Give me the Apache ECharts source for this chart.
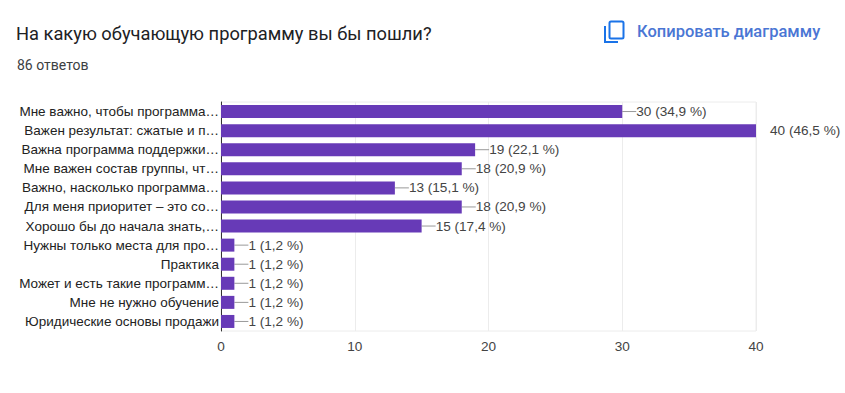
<!DOCTYPE html>
<html>
<head>
<meta charset="utf-8">
<style>
  html, body { margin: 0; padding: 0; background: #fff; }
  #chart { width: 845px; height: 393px; }
</style>
<script src="https://cdn.jsdelivr.net/npm/echarts@6/dist/echarts.min.js"></script>
</head>
<body>
<div id="chart"></div>
<script>
const categories = [
  'Мне важно, чтобы программа…',
  'Важен результат: сжатые и п…',
  'Важна программа поддержки…',
  'Мне важен состав группы, чт…',
  'Важно, насколько программа…',
  'Для меня приоритет – это со…',
  'Хорошо бы до начала знать,…',
  'Нужны только места для про…',
  'Практика',
  'Может и есть такие программ…',
  'Мне не нужно обучение',
  'Юридические основы продажи'
]
const values = [30, 40, 19, 18, 13, 18, 15, 1, 1, 1, 1, 1]
const percents = ['34,9', '46,5', '22,1', '20,9', '15,1', '20,9', '17,4', '1,2', '1,2', '1,2', '1,2', '1,2']
const xTicks = [0, 10, 20, 30, 40]

const FONT = '"Liberation Sans", Arial, sans-serif'
const HEAD_FONT = 'Roboto, Arial, sans-serif'
const chart = echarts.init(document.getElementById('chart'), null, { renderer: 'svg' })

chart.setOption({
  animation: false,
  backgroundColor: '#fff',
  title: {
    text: 'На какую обучающую программу вы бы пошли?',
    left: 11,
    top: 19,
    textStyle: { fontFamily: HEAD_FONT, fontSize: 18.3, fontWeight: 400, color: '#202124' }
  },
  graphic: [
    { type: 'text', left: 17, top: 58, style: { text: '86 ответов', fontFamily: HEAD_FONT, fontSize: 14, fill: '#3c4043' } },
    { type: 'text', left: 637, top: 23, style: { text: 'Копировать диаграмму', fontFamily: HEAD_FONT, fontSize: 16.5, fontWeight: 500, fill: '#4a76d4' } },
    // copy icon
    { type: 'rect', shape: { x: 609.5, y: 21.5, width: 14, height: 17, r: 1.5 }, style: { fill: 'none', stroke: '#1a73e8', lineWidth: 2 } },
    { type: 'polyline', shape: { points: [[605, 26], [605, 42], [618, 42]] }, style: { fill: 'none', stroke: '#1a73e8', lineWidth: 2 } }
  ],
  grid: { left: 221, right: 89, top: 102, bottom: 62, show: true, borderColor: '#ececec', borderWidth: 1 },
  xAxis: {
    type: 'value',
    min: xTicks[0],
    max: xTicks[xTicks.length - 1],
    interval: 10,
    axisLine: { show: false },
    axisTick: { show: false },
    axisLabel: { fontFamily: FONT, fontSize: 13.6, color: '#444', margin: 8 },
    splitLine: { lineStyle: { color: '#ececec' } }
  },
  yAxis: {
    type: 'category',
    inverse: true,
    data: categories,
    axisLine: { lineStyle: { color: '#333' } },
    axisTick: { show: false },
    axisLabel: { fontFamily: FONT, fontSize: 13.5, color: '#222', margin: 2 }
  },
  series: [{
    type: 'bar',
    data: values.map((v, i) => ({
      value: v,
      label: { formatter: `${v} (${percents[i]} %)` },
      labelLine: { show: v < 40 }
    })),
    barWidth: 13,
    itemStyle: { color: '#673ab7' },
    label: {
      show: true,
      position: 'right',
      distance: 0,
      fontFamily: FONT,
      fontSize: 13.6,
      color: '#444'
    },
    labelLayout: { dx: 14 },
    labelLine: { show: true, lineStyle: { color: '#999', width: 1 } }
  }]
})
</script>
</body>
</html>
